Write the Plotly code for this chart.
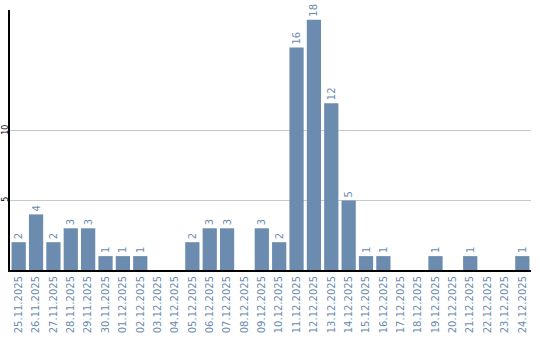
import plotly.graph_objects as go

dates = ["25.11.2025","26.11.2025","27.11.2025","28.11.2025","29.11.2025","30.11.2025",
         "01.12.2025","02.12.2025","03.12.2025","04.12.2025","05.12.2025","06.12.2025",
         "07.12.2025","08.12.2025","09.12.2025","10.12.2025","11.12.2025","12.12.2025",
         "13.12.2025","14.12.2025","15.12.2025","16.12.2025","17.12.2025","18.12.2025",
         "19.12.2025","20.12.2025","21.12.2025","22.12.2025","23.12.2025","24.12.2025"]
counts = [2,4,2,3,3,1,1,1,0,0,2,3,3,0,3,2,16,18,12,5,1,1,0,0,1,0,1,0,0,1]
ytick_vals = [5, 10]

color = "#6b8cae"
labels = [str(v) if v else "" for v in counts]

fig = go.Figure(go.Bar(
    x=dates, y=counts, text=labels, textposition="outside", textangle=-90,
    cliponaxis=False,
    textfont=dict(family="DejaVu Sans", size=10, color=color),
    marker=dict(color=color, line=dict(width=0)),
))
fig.update_layout(
    width=540, height=340,
    margin=dict(l=10, r=9, t=10, b=70),
    plot_bgcolor="white", paper_bgcolor="white",
    bargap=0.18, showlegend=False,
    font=dict(family="DejaVu Sans"),
)
fig.update_xaxes(
    type="category", tickangle=-90, showgrid=False, automargin=False,
    tickfont=dict(family="DejaVu Sans", size=10, color=color),
    showline=True, linecolor="black", linewidth=2, ticks="",
)
fig.update_yaxes(
    range=[0, 18.7], tickvals=ytick_vals, tickangle=-90, automargin=False,
    tickfont=dict(family="DejaVu Sans", size=8, color="black"),
    showgrid=True, gridcolor="#c8c8c8", gridwidth=1, ticklabelstandoff=-3,
    showline=True, linecolor="black", linewidth=2, zeroline=False, ticks="",
)
fig.write_html("out.html")
